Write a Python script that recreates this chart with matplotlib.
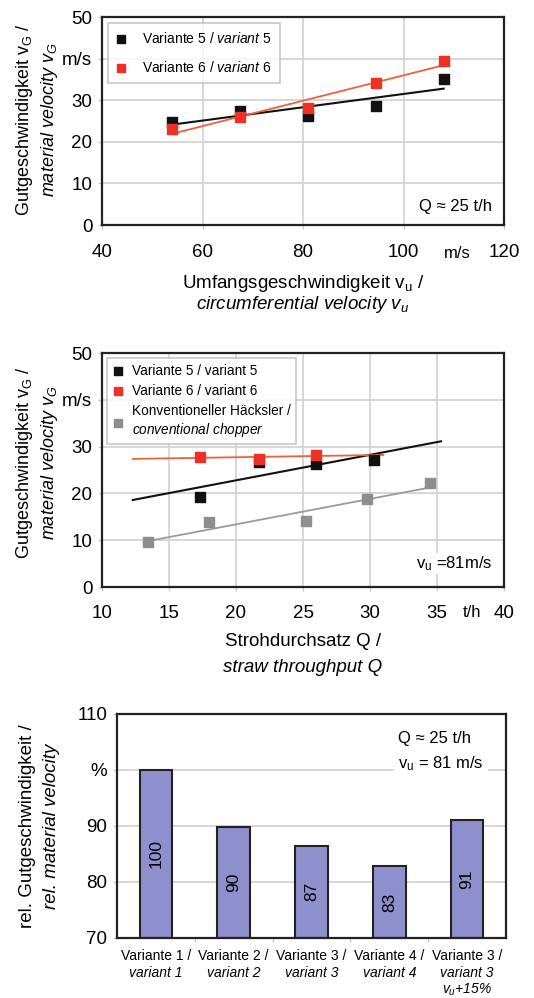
import numpy as np
import matplotlib
matplotlib.use("Agg")
import matplotlib.pyplot as plt

plt.rcParams["font.family"] = ["Liberation Sans", "DejaVu Sans"]
plt.rcParams["mathtext.fontset"] = "custom"
plt.rcParams["mathtext.rm"] = "Liberation Sans"
plt.rcParams["mathtext.it"] = "Liberation Sans:italic"
plt.rcParams["mathtext.default"] = "regular"

# chart 1: velocity vs circumferential velocity
vu = [54, 67.5, 81, 94.5, 108]
v5_a = [24.8, 27.5, 26.3, 28.7, 35.0]
v6_a = [23.0, 26.0, 28.2, 34.2, 39.5]

# chart 2: velocity vs straw throughput
q5 = [17.3, 21.7, 26.0, 30.3]
v5_b = [19.2, 26.8, 26.3, 27.2]
q6 = [17.3, 21.7, 26.0]
v6_b = [27.8, 27.4, 28.2]
qk = [13.4, 18.0, 25.2, 29.8, 34.5]
vk_b = [9.6, 13.8, 14.0, 18.7, 22.2]
fit_range5 = [12.3, 35.3]
fit_range6 = [12.3, 31.0]
fit_rangek = [13.4, 34.5]

# chart 3: relative velocity
bar_de = ["Variante 1 /", "Variante 2 /", "Variante 3 /", "Variante 4 /", "Variante 3 /"]
bar_en = ["variant 1", "variant 2", "variant 3", "variant 4", "variant 3"]
bar_extra = ["", "", "", "", "$\\mathit{v_u}$+15%"]
rel_v = [100, 89.8, 86.5, 82.9, 91]
rel_lbl = ["100", "90", "87", "83", "91"]

BLACK = "#111111"
RED = "#ee3124"
REDLINE = "#f0603a"
GRAY = "#8e8e8e"
GRID = "#d4d4d4"
BAR = "#8d90cc"

W, H = 534, 998
fig = plt.figure(figsize=(W / 100, H / 100), dpi=100)


def px_axes(left, top, right, bottom):
    return fig.add_axes([left / W, 1 - bottom / H, (right - left) / W, (bottom - top) / H])


def style_axes(ax):
    for s in ax.spines.values():
        s.set_linewidth(1.6)
        s.set_color("#222222")
    ax.grid(True, color=GRID, linewidth=1.3)
    ax.set_axisbelow(True)
    ax.tick_params(length=3, width=1, color="#cccccc", labelsize=13.5, pad=4)


def fit_line(ax, x, y, xr, color, lw):
    k, b = np.polyfit(x, y, 1)
    xr = np.array(xr)
    ax.plot(xr, k * xr + b, color=color, lw=lw, zorder=2)


# ---- chart 1
ax1 = px_axes(102, 17, 504, 225)
style_axes(ax1)
ax1.set_xlim(40, 120)
ax1.set_ylim(0, 50)
ax1.set_xticks([40, 60, 80, 100, 120])
ax1.set_yticks([0, 10, 20, 30, 40, 50])
ax1.set_yticklabels(["0", "10", "20", "30", "m/s", "50"])
ax1.tick_params(axis="x", pad=11)
ax1.text(110.8, -0.135, "m/s", transform=ax1.get_xaxis_transform(), ha="center", va="center", fontsize=12)
fit_line(ax1, vu, v5_a, [vu[0], vu[-1]], BLACK, 1.5)
fit_line(ax1, vu, v6_a, [vu[0], vu[-1]], REDLINE, 1.3)
h5 = ax1.scatter(vu, v5_a, marker="s", s=60, color=BLACK, zorder=3, label="Variante 5 / $\\mathit{variant\\ 5}$")
h6 = ax1.scatter(vu, v6_a, marker="s", s=60, color=RED, zorder=4, label="Variante 6 / $\\mathit{variant\\ 6}$")
leg = ax1.legend(handles=[h5, h6], loc="upper left", fontsize=10, frameon=True, fancybox=False,
                 edgecolor="#bbbbbb", handlelength=0.8, handletextpad=1.1, borderaxespad=0.4,
                 scatterpoints=1, markerscale=0.7, labelspacing=1.0, borderpad=0.6)
leg.get_frame().set_linewidth(1.2)
ax1.text(0.97, 0.09, "Q ≈ 25 t/h", transform=ax1.transAxes, ha="right", va="center", fontsize=12,
         bbox=dict(facecolor="white", edgecolor="none", pad=1))
fig.text(303 / W, 1 - 283 / H, "Umfangsgeschwindigkeit $v_u$ /", ha="center", va="center", fontsize=13.5)
fig.text(303 / W, 1 - 305 / H, "circumferential velocity $\\mathit{v_u}$", ha="center", va="center",
         fontsize=13.5, style="italic")
fig.text(25 / W, 1 - 120 / H, "Gutgeschwindigkeit $v_G$ /", ha="center", va="center", rotation=90, fontsize=13)
fig.text(50 / W, 1 - 120 / H, "material velocity $\\mathit{v_G}$", ha="center", va="center", rotation=90,
         fontsize=13, style="italic")

# ---- chart 2
ax2 = px_axes(102, 353, 504, 587)
style_axes(ax2)
ax2.set_xlim(10, 40)
ax2.set_ylim(0, 50)
ax2.set_xticks([10, 15, 20, 25, 30, 35, 40])
ax2.set_yticks([0, 10, 20, 30, 40, 50])
ax2.set_yticklabels(["0", "10", "20", "30", "m/s", "50"])
ax2.tick_params(axis="x", pad=10)
ax2.text(37.6, -0.111, "t/h", transform=ax2.get_xaxis_transform(), ha="center", va="center", fontsize=12)
fit_line(ax2, q5, v5_b, fit_range5, BLACK, 1.5)
fit_line(ax2, q6, v6_b, fit_range6, REDLINE, 1.3)
fit_line(ax2, qk, vk_b, fit_rangek, "#9a9a9a", 1.3)
g5 = ax2.scatter(q5, v5_b, marker="s", s=60, color=BLACK, zorder=3, label="Variante 5 / variant 5")
g6 = ax2.scatter(q6, v6_b, marker="s", s=60, color=RED, zorder=4, label="Variante 6 / variant 6")
gk = ax2.scatter(qk, vk_b, marker="s", s=60, color=GRAY, zorder=3,
                 label="Konventioneller Häcksler /\n$\\mathit{conventional\\ chopper}$")
leg2 = ax2.legend(handles=[g5, g6, gk], loc="upper left", fontsize=9.8, frameon=True, fancybox=False,
                  edgecolor="#bbbbbb", handlelength=0.8, handletextpad=0.6, borderaxespad=0.4,
                  scatterpoints=1, markerscale=0.7, labelspacing=0.45)
leg2.get_frame().set_linewidth(1.2)
ax2.text(0.97, 0.1, "$v_u$ =81m/s", transform=ax2.transAxes, ha="right", va="center", fontsize=12,
         bbox=dict(facecolor="white", edgecolor="none", pad=1))
fig.text(303 / W, 1 - 642 / H, "Strohdurchsatz Q /", ha="center", va="center", fontsize=13.5)
fig.text(303 / W, 1 - 667 / H, "straw throughput Q", ha="center", va="center", fontsize=13.5, style="italic")
fig.text(25 / W, 1 - 463 / H, "Gutgeschwindigkeit $v_G$ /", ha="center", va="center", rotation=90, fontsize=13)
fig.text(50 / W, 1 - 463 / H, "material velocity $\\mathit{v_G}$", ha="center", va="center", rotation=90,
         fontsize=13, style="italic")

# ---- chart 3
ax3 = px_axes(117, 714, 506, 938)
style_axes(ax3)
ax3.grid(False)
ax3.yaxis.grid(True, color=GRID, linewidth=1.3)
ax3.set_xlim(-0.5, 4.5)
ax3.set_ylim(70, 110)
ax3.set_yticks([70, 80, 90, 100, 110])
ax3.set_yticklabels(["70", "80", "90", "%", "110"])
ax3.set_xticks(np.arange(0.5, 4.5, 1))
ax3.set_xticklabels([])
xs = np.arange(len(rel_v))
ax3.bar(xs, np.array(rel_v) - 70, bottom=70, width=0.42, color=BAR, edgecolor="#222222", linewidth=1.5, zorder=2)
for x, v, lbl in zip(xs, rel_v, rel_lbl):
    ax3.text(x, (70 + v) / 2, lbl, rotation=90, ha="center", va="center", fontsize=12.5, zorder=3)
for x, de, en, ex in zip(xs, bar_de, bar_en, bar_extra):
    tr = ax3.get_xaxis_transform()
    ax3.text(x, -0.08, de, transform=tr, ha="center", va="center", fontsize=10)
    ax3.text(x, -0.157, en, transform=tr, ha="center", va="center", fontsize=10, style="italic")
    if ex:
        ax3.text(x, -0.232, ex, transform=tr, ha="center", va="center", fontsize=10, style="italic")
ax3.text(0.722, 0.83, "Q ≈ 25 t/h\n$v_u$ = 81 m/s", transform=ax3.transAxes, ha="left", va="center",
         fontsize=12, linespacing=1.6, zorder=4,
         bbox=dict(facecolor="white", edgecolor="none", pad=3))
fig.text(28 / W, 1 - 826 / H, "rel. Gutgeschwindigkeit /", ha="center", va="center", rotation=90, fontsize=13.5)
fig.text(52 / W, 1 - 826 / H, "rel. material velocity", ha="center", va="center", rotation=90,
         fontsize=13.5, style="italic")

fig.savefig("out.png", dpi=100)
